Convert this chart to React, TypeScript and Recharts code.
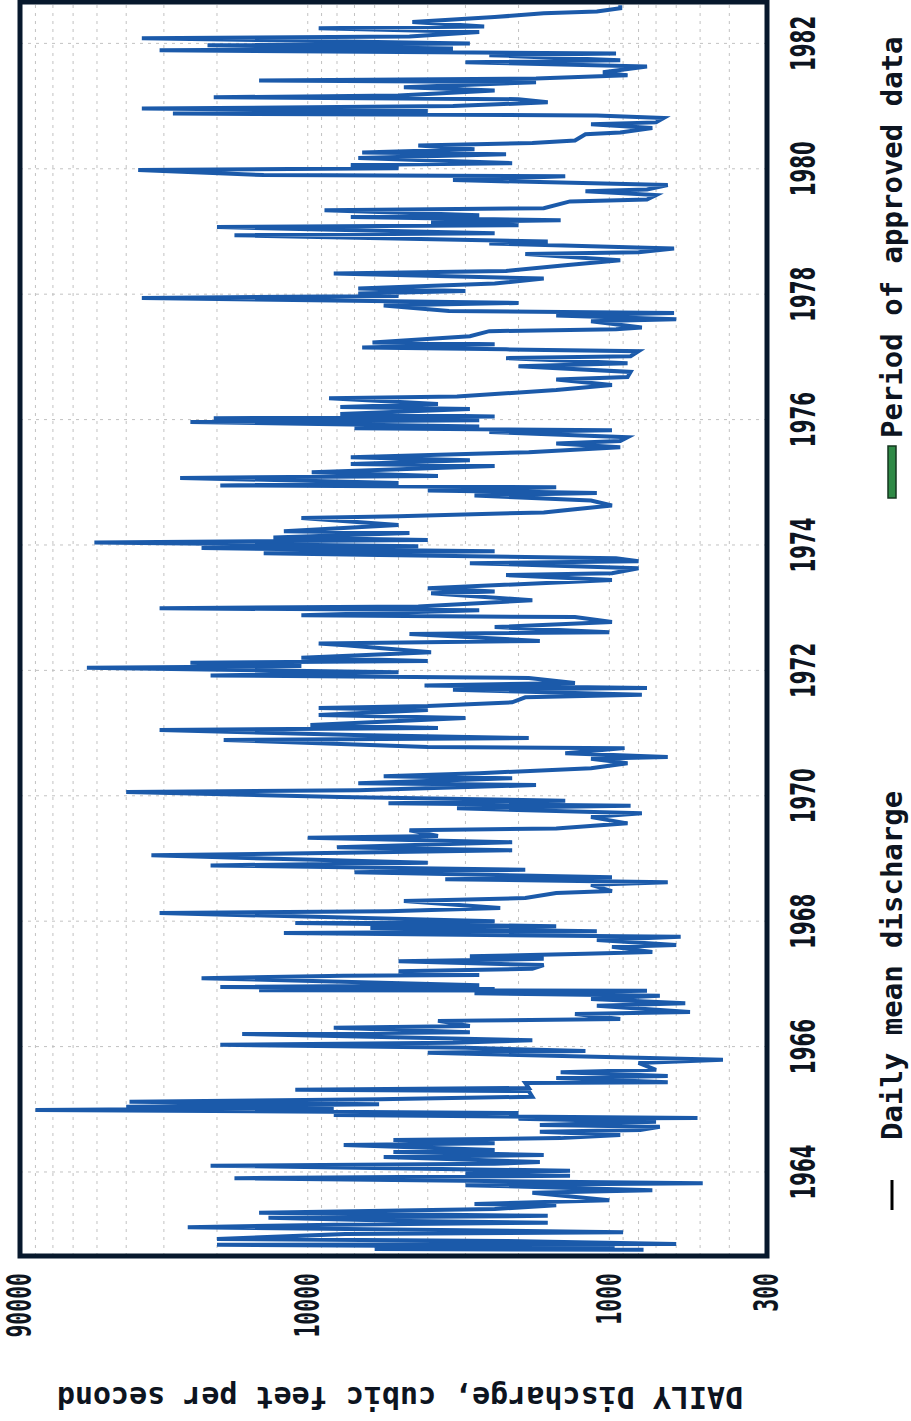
import React from 'react';
import { LineChart, Line, XAxis, YAxis, CartesianGrid, ReferenceArea } from 'recharts';

// Daily mean discharge (cfs): [decimal year, discharge]
const flow1962to1964: [number, number][] = [
  [1962.76, 770], [1962.77, 6000], [1962.80, 960], [1962.84, 20000], [1962.85, 600], [1962.90, 2200], [1962.93, 20000],
  [1963.01, 7500], [1963.04, 900], [1963.12, 25000], [1963.16, 8200], [1963.19, 1600], [1963.22, 4600], [1963.27, 13500], [1963.30, 1600], [1963.35, 14500], [1963.41, 2400], [1963.47, 1500], [1963.49, 2800], [1963.55, 1000], [1963.67, 1800], [1963.71, 720], [1963.79, 3000], [1963.82, 490], [1963.90, 17500], [1963.94, 1350], [1963.98, 3000],
  [1964.02, 1350], [1964.10, 21000], [1964.13, 2400], [1964.16, 1700], [1964.24, 5600], [1964.27, 1650], [1964.32, 5200], [1964.35, 2400], [1964.43, 7600], [1964.46, 2400], [1964.51, 5200], [1964.54, 1450], [1964.59, 920], [1964.64, 1700], [1964.67, 790], [1964.72, 680], [1964.75, 1700], [1964.80, 700], [1964.85, 2000], [1964.86, 510], [1964.91, 8200], [1964.94, 2000],
];
const flow1965to1967: [number, number][] = [
  [1964.99, 80000], [1965.02, 8200], [1965.04, 40000], [1965.08, 5800], [1965.12, 39000], [1965.16, 5800], [1965.20, 1800], [1965.29, 1850], [1965.31, 11000], [1965.34, 1850], [1965.42, 1900], [1965.43, 640], [1965.50, 1500], [1965.53, 640], [1965.59, 1450], [1965.63, 700], [1965.74, 800], [1965.79, 420], [1965.82, 800], [1965.90, 4000], [1965.93, 1200], [1965.98, 3000],
  [1966.03, 19500], [1966.06, 3300], [1966.10, 1800], [1966.20, 16500], [1966.23, 2900], [1966.30, 8200], [1966.33, 2900], [1966.41, 3700], [1966.44, 920], [1966.52, 1300], [1966.55, 540], [1966.65, 1100], [1966.69, 560], [1966.76, 1150], [1966.81, 680], [1966.85, 2800], [1966.89, 750], [1966.90, 14500], [1966.92, 2400], [1966.95, 19500], [1966.98, 2700],
  [1967.09, 22500], [1967.13, 7600], [1967.14, 2700], [1967.20, 5000], [1967.24, 1800], [1967.30, 1650], [1967.36, 5000], [1967.40, 1650], [1967.44, 2900], [1967.48, 1200], [1967.51, 720], [1967.59, 980], [1967.62, 600], [1967.70, 1100], [1967.75, 580], [1967.81, 12000], [1967.84, 1100], [1967.89, 6200], [1967.92, 1500], [1967.97, 11000],
];
const flow1968to1970: [number, number][] = [
  [1968.00, 2400], [1968.13, 31000], [1968.16, 5400], [1968.21, 2300], [1968.32, 4800], [1968.37, 1900], [1968.45, 1500], [1968.48, 980], [1968.58, 1150], [1968.62, 640], [1968.67, 3500], [1968.70, 980], [1968.78, 7000], [1968.82, 1900], [1968.89, 21000], [1968.93, 4000], [1968.97, 8200],
  [1969.05, 33000], [1969.09, 7600], [1969.13, 2100], [1969.18, 8000], [1969.26, 2100], [1969.33, 10000], [1969.36, 3700], [1969.45, 4600], [1969.48, 1500], [1969.56, 870], [1969.66, 1150], [1969.72, 780], [1969.80, 3200], [1969.84, 850], [1969.88, 5400], [1969.92, 1400], [1969.98, 7800],
  [1970.06, 40000], [1970.09, 6800], [1970.17, 1750], [1970.20, 6800], [1970.28, 2100], [1970.31, 5600], [1970.36, 2700], [1970.44, 1150], [1970.52, 870], [1970.59, 1150], [1970.62, 640], [1970.68, 1400], [1970.76, 890], [1970.78, 4000], [1970.89, 19000], [1970.92, 1850], [1970.97, 7000],
];
const flow1971to1973: [number, number][] = [
  [1971.05, 31000], [1971.08, 3700], [1971.13, 9800], [1971.24, 3000], [1971.29, 9200], [1971.37, 4000], [1971.40, 9200], [1971.43, 4000], [1971.49, 2100], [1971.57, 1900], [1971.61, 780], [1971.69, 3300], [1971.72, 750], [1971.76, 4100], [1971.80, 1300], [1971.88, 1850], [1971.92, 21000], [1971.97, 5000],
  [1972.04, 54000], [1972.07, 10500], [1972.12, 24500], [1972.15, 4000], [1972.20, 10500], [1972.29, 3900], [1972.40, 7500], [1972.43, 9200], [1972.47, 1700], [1972.58, 4600], [1972.61, 1000], [1972.69, 2400], [1972.77, 980], [1972.85, 1300], [1972.88, 10500], [1972.96, 2700], [1972.99, 31000],
  [1973.02, 4300], [1973.12, 1800], [1973.23, 3900], [1973.26, 2400], [1973.31, 4000], [1973.44, 980], [1973.52, 2200], [1973.55, 980], [1973.63, 800], [1973.71, 2900], [1973.74, 800], [1973.79, 950], [1973.84, 5800], [1973.87, 14000], [1973.90, 2400], [1973.95, 22500], [1973.98, 4300],
];
const flow1974to1976: [number, number][] = [
  [1974.04, 51000], [1974.08, 4000], [1974.12, 13000], [1974.19, 4600], [1974.22, 12000], [1974.32, 5000], [1974.43, 10500], [1974.46, 5000], [1974.52, 1650], [1974.63, 980], [1974.71, 1150], [1974.79, 2800], [1974.83, 1100], [1974.87, 4000], [1974.92, 1500], [1974.95, 19500], [1974.99, 5000],
  [1975.07, 26500], [1975.10, 3700], [1975.16, 9700], [1975.26, 2400], [1975.29, 7200], [1975.35, 2900], [1975.40, 7200], [1975.48, 1850], [1975.56, 920], [1975.62, 1500], [1975.66, 920], [1975.72, 870], [1975.80, 2500], [1975.83, 980], [1975.86, 7000], [1975.89, 2700], [1975.96, 24500], [1975.99, 2700],
  [1976.02, 20500], [1976.05, 2400], [1976.09, 7800], [1976.17, 2900], [1976.20, 7800], [1976.25, 3700], [1976.34, 8500], [1976.37, 3200], [1976.47, 1500], [1976.55, 980], [1976.64, 1500], [1976.68, 870], [1976.76, 850], [1976.85, 2000], [1976.90, 870], [1976.98, 2200],
];
const flow1977to1979: [number, number][] = [
  [1977.01, 850], [1977.09, 800], [1977.12, 2200], [1977.15, 6600], [1977.20, 2400], [1977.23, 6100], [1977.33, 2900], [1977.41, 2500], [1977.44, 950], [1977.47, 780], [1977.57, 1150], [1977.60, 600], [1977.66, 1500], [1977.70, 610], [1977.73, 3400], [1977.82, 5600], [1977.86, 2000], [1977.94, 35500], [1977.97, 5000],
  [1978.01, 6800], [1978.05, 3000], [1978.09, 6800], [1978.17, 2400], [1978.25, 1650], [1978.33, 8200], [1978.37, 2200], [1978.46, 1400], [1978.54, 920], [1978.64, 1900], [1978.67, 800], [1978.73, 610], [1978.81, 2500], [1978.84, 1600], [1978.94, 17500], [1978.97, 2400],
  [1979.07, 20000], [1979.10, 2000], [1979.15, 3900], [1979.18, 1450], [1979.23, 7200], [1979.26, 2700], [1979.34, 8800], [1979.37, 1650], [1979.48, 1350], [1979.51, 750], [1979.58, 700], [1979.64, 1200], [1979.67, 750], [1979.74, 640], [1979.82, 3300], [1979.88, 1400], [1979.90, 14000], [1979.98, 36500],
];
const flow1980to1982: [number, number][] = [
  [1980.01, 5000], [1980.06, 7200], [1980.09, 2100], [1980.17, 6800], [1980.23, 2200], [1980.26, 6600], [1980.31, 2800], [1980.37, 4300], [1980.41, 1800], [1980.45, 1300], [1980.55, 1200], [1980.58, 920], [1980.65, 720], [1980.71, 1150], [1980.74, 700], [1980.81, 660], [1980.85, 1100], [1980.88, 28000], [1980.92, 4000], [1980.96, 35500],
  [1981.00, 3300], [1981.06, 1600], [1981.11, 2000], [1981.14, 20500], [1981.17, 5000], [1981.25, 2400], [1981.30, 4800], [1981.38, 1750], [1981.41, 14500], [1981.44, 1750], [1981.49, 870], [1981.54, 1050], [1981.63, 750], [1981.70, 3000], [1981.73, 920], [1981.81, 2500], [1981.84, 950], [1981.89, 31000], [1981.92, 3300], [1981.97, 21500],
  [1982.00, 2900], [1982.08, 35500], [1982.11, 4600], [1982.18, 2700], [1982.24, 9200], [1982.27, 2600], [1982.34, 4500], [1982.42, 2400], [1982.48, 1650], [1982.51, 1100], [1982.56, 920], [1982.61, 920],
];

const yearTicks = [1964, 1966, 1968, 1970, 1972, 1974, 1976, 1978, 1980, 1982];
const timeDomain: [number, number] = [1962.66, 1982.66];
const quarterTicks = Array.from({ length: 80 }, (_, i) => 1962.75 + i * 0.25);
const gridValues = [
  300, 400, 500, 600, 700, 800, 900,
  1000, 2000, 3000, 4000, 5000, 6000, 7000, 8000, 9000,
  10000, 20000, 30000, 40000, 50000, 60000, 70000, 80000, 90000,
];
const labeledValues = [300, 1000, 10000, 90000];
const valueDomain: [number, number] = [300, 90000];
const yTitle = 'DAILY Discharge, cubic feet per second';
const legendItems = ['Daily mean discharge', 'Period of approved data'];

const rows = [
  ...flow1962to1964, ...flow1965to1967, ...flow1968to1970, ...flow1971to1973,
  ...flow1974to1976, ...flow1977to1979, ...flow1980to1982,
].map(([t, q]) => ({ t, q }));

const INK = '#0d1420';
const FRAME = '#07182c';
const LINE = '#1b5aaa';

const renderXTick = (props: any) => {
  const { x, y, payload } = props;
  return (
    <g transform={`translate(${x},${y + 48})`}>
      <text transform="scale(0.6,1)" textAnchor="middle" fontFamily="DejaVu Sans" fontWeight="bold" fontSize={33} fill={INK}>
        {payload.value}
      </text>
    </g>
  );
};

const renderYTick = (props: any) => {
  const { x, y, payload } = props;
  if (!labeledValues.includes(payload.value)) return <g />;
  return (
    <g transform={`translate(${x},${y})`}>
      <text transform="scale(0.65,1)" textAnchor="end" dominantBaseline="central" fontFamily="DejaVu Sans Mono" fontWeight="bold" fontSize={33} fill={INK}>
        {payload.value}
      </text>
    </g>
  );
};

const renderEmptyTick = () => <g />;

export default function App() {
  return (
    <div style={{ position: 'absolute', left: 0, top: 0, width: 911, height: 1421, overflow: 'hidden', background: '#ffffff' }}>
      <div
        style={{
          position: 'absolute', left: 0, top: 0, width: 1421, height: 911,
          transform: 'translate(0px, 1421px) rotate(-90deg)', transformOrigin: '0 0',
        }}
      >
        <LineChart width={1421} height={911} data={rows} margin={{ top: 20, right: 2, bottom: 84, left: 15 }}>
          <CartesianGrid stroke="#c2c2c2" strokeDasharray="3 5" strokeWidth={1} />
          <XAxis
            type="number" dataKey="t" domain={timeDomain} ticks={yearTicks} allowDataOverflow interval={0}
            tickLine={false} axisLine={false} tickSize={0} tickMargin={0} height={60} tick={renderXTick}
          />
          <XAxis
            xAxisId="top" orientation="top" mirror type="number" domain={timeDomain} ticks={quarterTicks}
            allowDataOverflow interval={0} axisLine={false} tick={renderEmptyTick} tickSize={8}
            tickLine={{ stroke: FRAME, strokeWidth: 3 }}
          />
          <YAxis
            type="number" scale="log" domain={valueDomain} ticks={gridValues} allowDataOverflow interval={0}
            width={150} tickLine={false} axisLine={false} tickSize={0} tickMargin={17} tick={renderYTick}
          />
          <Line type="linear" dataKey="q" stroke={LINE} strokeWidth={4} strokeLinejoin="miter" dot={false} isAnimationActive={false} />
          <ReferenceArea
            x1={timeDomain[0]} x2={timeDomain[1]} y1={valueDomain[0]} y2={valueDomain[1]}
            fill="none" stroke={FRAME} strokeWidth={5} ifOverflow="visible"
          />
        </LineChart>
        <svg style={{ position: 'absolute', left: 0, top: 0, pointerEvents: 'none' }} width={1421} height={911}>
          <text
            transform="translate(24,400) rotate(-90)" textAnchor="middle" dominantBaseline="central"
            fontFamily="DejaVu Sans Mono" fontWeight="bold" fontSize={30} fill={INK}
          >
            {yTitle}
          </text>
          <line x1={211} x2={241} y1={892} y2={892} stroke="#000" strokeWidth={3} />
          <text x={281} y={892} dominantBaseline="central" fontFamily="DejaVu Sans Mono" fontWeight="bold" fontSize={29} fill={INK}>
            {legendItems[0]}
          </text>
          <rect x={923} y={888} width={52} height={8} fill="#2f8a46" stroke="#15361f" strokeWidth={1.5} />
          <text x={983} y={892} dominantBaseline="central" fontFamily="DejaVu Sans Mono" fontWeight="bold" fontSize={29} fill={INK}>
            {legendItems[1]}
          </text>
        </svg>
      </div>
    </div>
  );
}
